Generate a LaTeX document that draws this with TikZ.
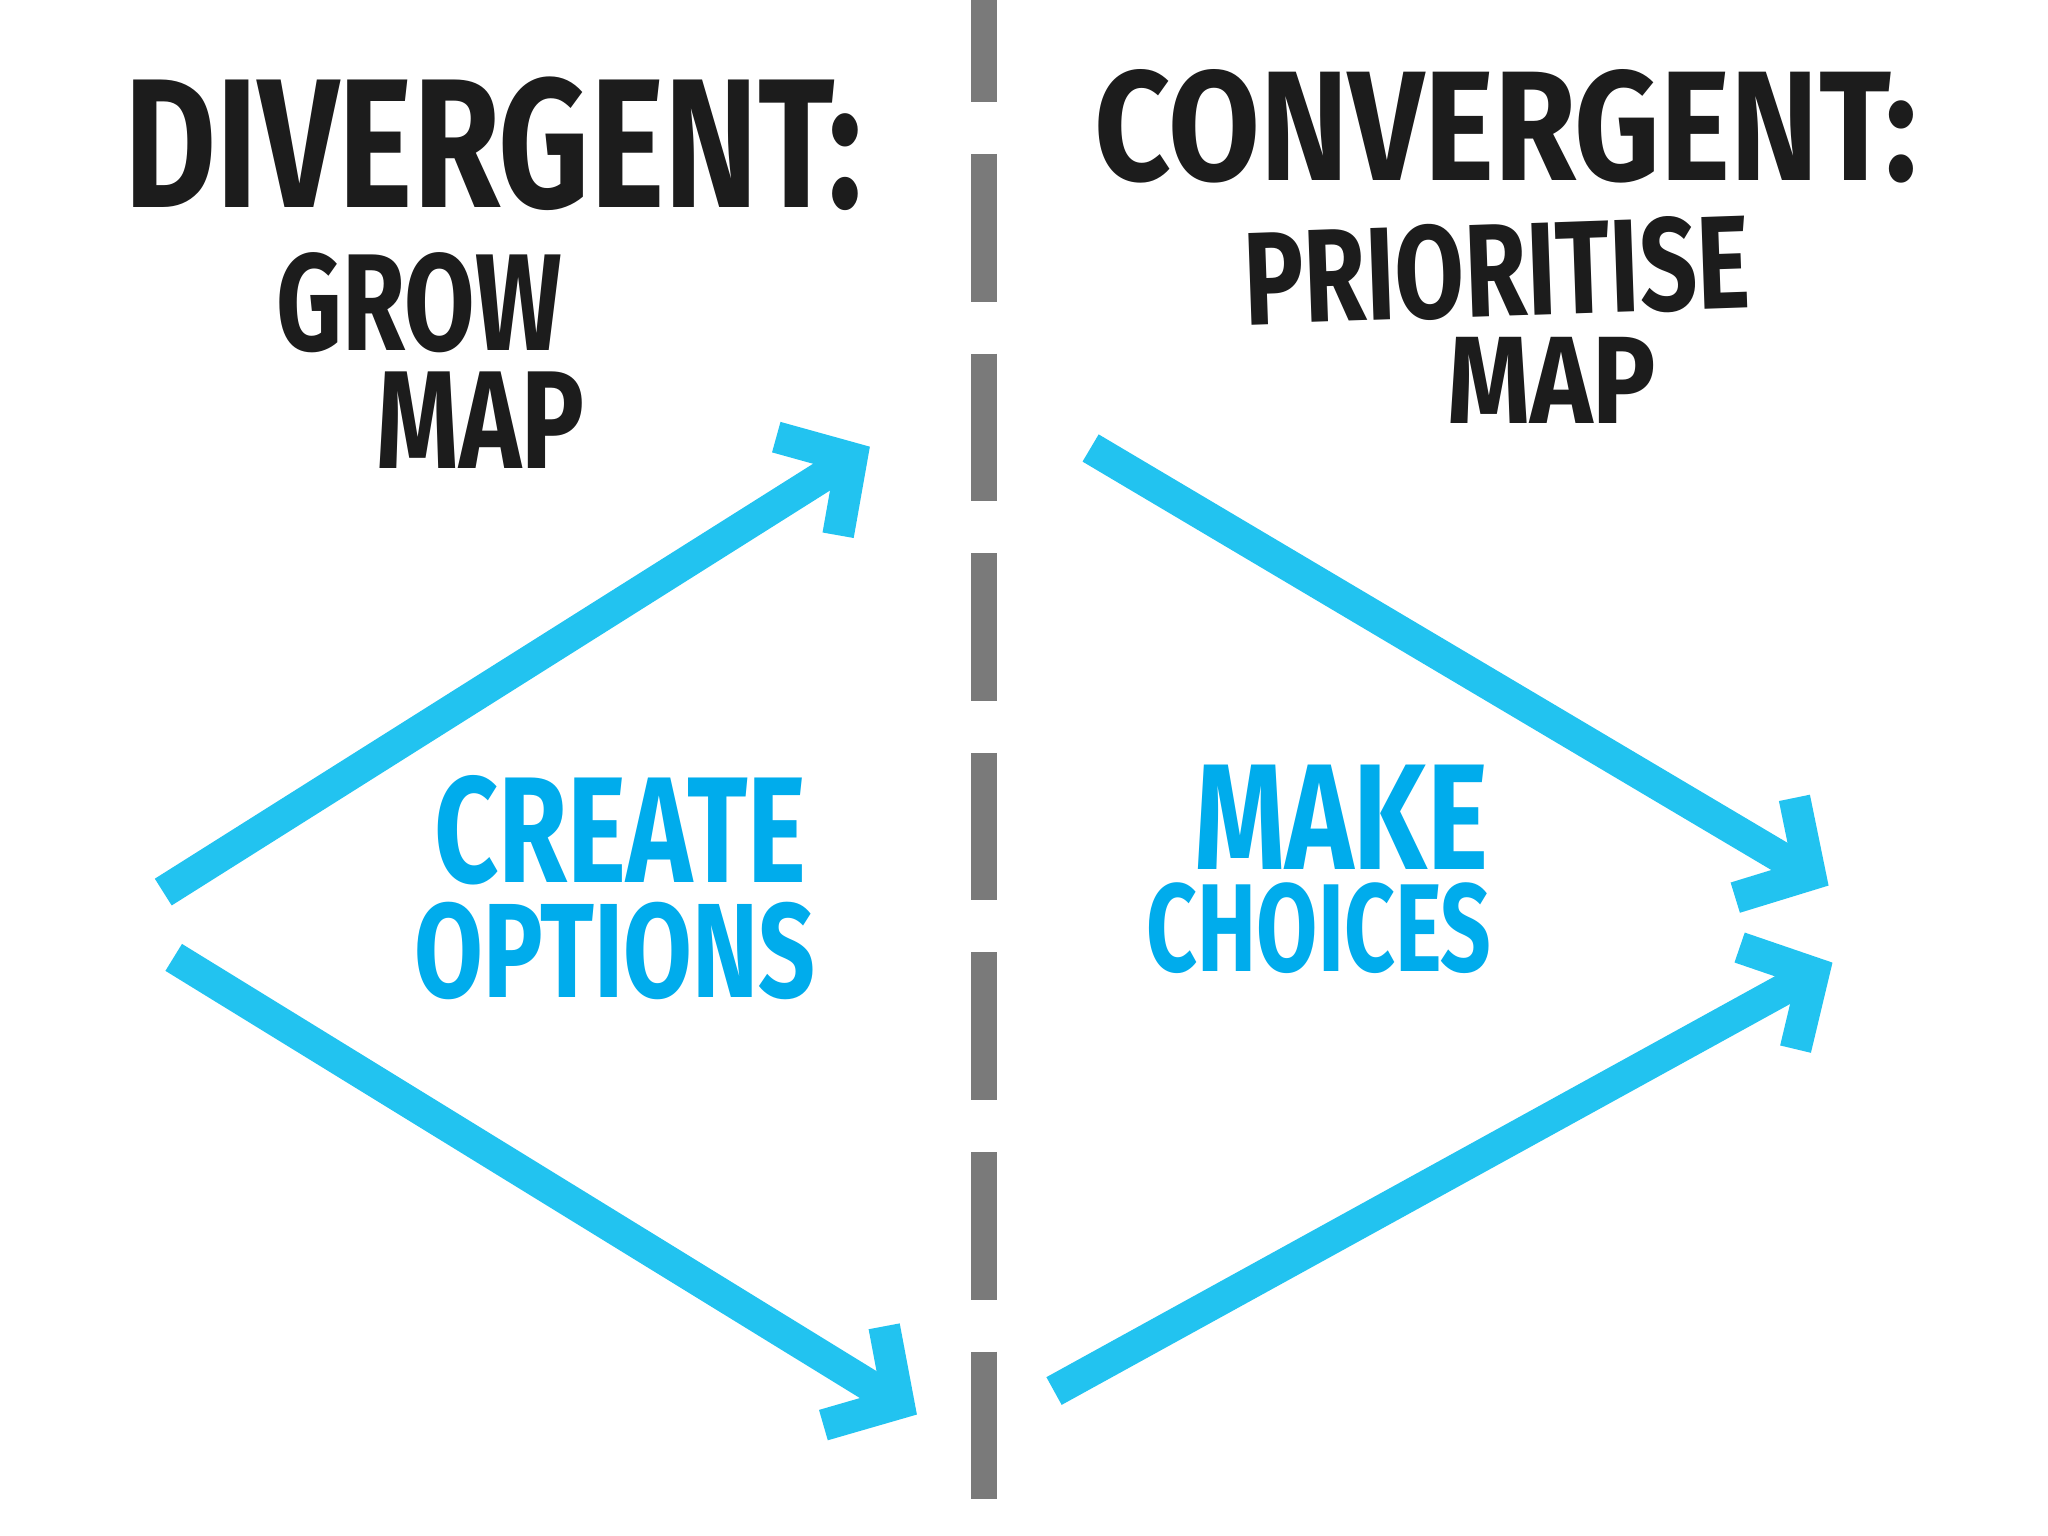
\documentclass[tikz,border=0pt]{standalone}
\usepackage{fontspec}
\usepackage{graphicx}
\usepackage{tikz}
\usetikzlibrary{arrows.meta,positioning}
\newfontfamily\handfont{Fira Sans}
\newlength{\pxu}
\setlength{\pxu}{0.01306cm}
\newcommand{\handtext}[3]{\resizebox{#1\pxu}{#2\pxu}{\handfont\bfseries #3}}
\definecolor{inkblack}{RGB}{28, 28, 28}
\definecolor{arrowblue}{RGB}{34, 195, 240}
\definecolor{textblue}{RGB}{0, 172, 236}
\definecolor{dividergray}{RGB}{122, 122, 122}
\tikzstyle{heading} = [inner sep=0pt, text=inkblack]
\tikzstyle{action} = [inner sep=0pt, text=textblue]
\tikzstyle{flow} = [draw=arrowblue, line width=9pt, -{Straight Barb[length=15pt, width=33pt]}]
\tikzstyle{divider} = [draw=dividergray, line width=7.4pt, dash pattern=on 42pt off 14.8pt, dash phase=13pt]

\begin{document}
\begin{tikzpicture}[x=0.01306cm, y=-0.01306cm]
\useasboundingbox[fill=white] (0,0) rectangle (1568,1176);

% divider ====================================
\coordinate (top) at (753,0);
\coordinate (bottom) at (753,1162);
\path[divider] (top) -- (bottom);

% divergent side =============================
\node[heading] (divergent) at (378,110) {\handtext{565}{100}{DIVERGENT:}};
\node[heading] (grow) at (321,232) {\handtext{218}{75}{GROW}};
\node[heading] (growmap) at (368,322) {\handtext{159}{74}{MAP}};
\node[action] (create) at (475,636) {\handtext{285}{82}{CREATE}};
\node[action] (options) at (471,728) {\handtext{307}{73}{OPTIONS}};

\coordinate (split-up) at (125,683);
\coordinate (split-down) at (133,733);
\coordinate (wide-top) at (666,342);
\coordinate (wide-bottom) at (702,1083);

\path[flow] (split-up) -- (wide-top);
\path[flow] (split-down) -- (wide-bottom);

% convergent side ============================
\node[heading] (convergent) at (1153,97) {\handtext{630}{85}{CONVERGENT:}};
\node[heading, rotate=2] (prioritise) at (1146,207) {\handtext{388}{72}{PRIORITISE}};
\node[heading] (primap) at (1188,291) {\handtext{160}{66}{MAP}};
\node[action] (make) at (1027,626) {\handtext{225}{80}{MAKE}};
\node[action] (choices) at (1010,711) {\handtext{264}{68}{CHOICES}};

\coordinate (narrow-top) at (835,343);
\coordinate (narrow-bottom) at (807,1065);
\coordinate (join-down) at (1400,678);
\coordinate (join-up) at (1403,737);

\path[flow] (narrow-top) -- (join-down);
\path[flow] (narrow-bottom) -- (join-up);

\end{tikzpicture}
\end{document}
